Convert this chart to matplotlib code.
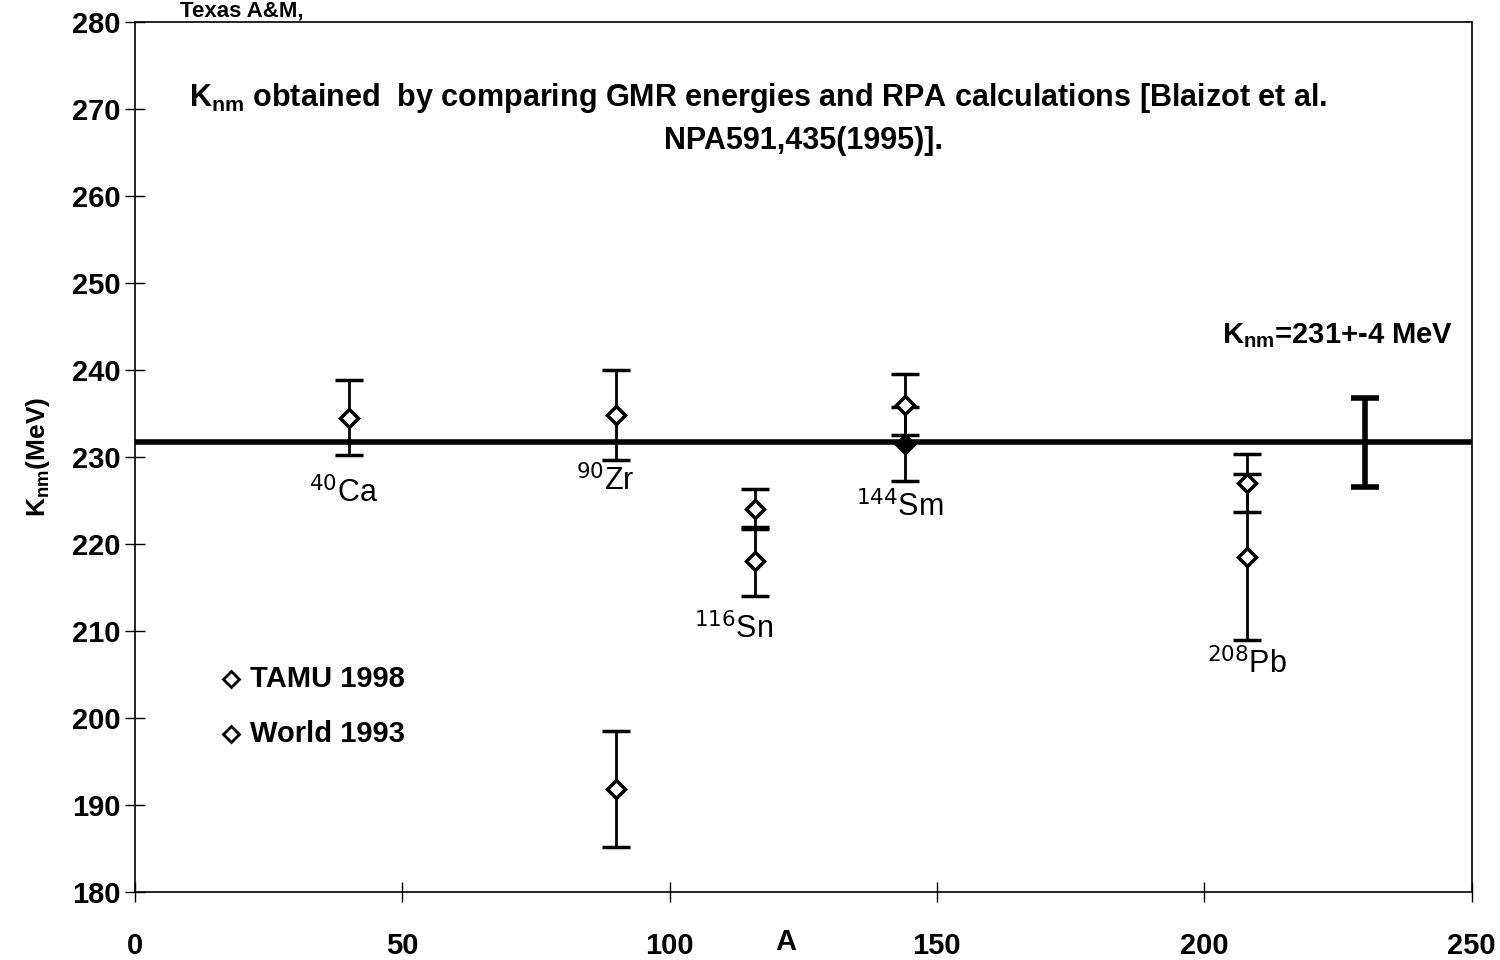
import numpy as np
import matplotlib.pyplot as plt

plt.rcParams['font.family'] = ['Liberation Sans', 'DejaVu Sans']

# TAMU 1998
tamu_a = [40, 90, 116, 144, 208]
tamu_k = [234.5, 234.8, 224.0, 236.0, 227.0]
tamu_err = [4.3, 5.2, 2.3, 3.5, 3.3]
# World 1993
world_a = [90, 116, 208]
world_k = [191.8, 218.0, 218.5]
world_err = [6.7, 4.0, 9.5]
# World 1993, Sm (drawn filled)
sm_a = [144]
sm_k = [231.5]
sm_err = [4.3]
# average
k_avg = 231.7
k_avg_err = 5.1
avg_pos = 230

labels = ['$^{40}$Ca', '$^{90}$Zr', '$^{116}$Sn', '$^{144}$Sm', '$^{208}$Pb']
label_xy = [(39, 225.8), (88, 227.2), (112, 210.2), (143, 224.2), (208, 206.2)]

fig = plt.figure(figsize=(15, 9.6), dpi=100)
ax = fig.add_axes([0.09, 0.071, 0.891, 0.906])

ax.axhline(k_avg, color='black', lw=4, zorder=1)
kw = dict(ms=9, mec='black', mew=2.5, ecolor='black', elinewidth=2,
          capsize=10, capthick=2, color='black')
ax.errorbar(tamu_a, tamu_k, yerr=tamu_err, fmt='D', mfc='white', **kw)
ax.errorbar(world_a, world_k, yerr=world_err, fmt='D', mfc='white', **kw)
ax.errorbar(sm_a, sm_k, yerr=sm_err, fmt='D', mfc='black', **kw)
ax.errorbar([avg_pos], [k_avg], yerr=[k_avg_err], fmt='none', ecolor='black',
            elinewidth=4, capsize=10, capthick=4)

for lab, (x, y) in zip(labels, label_xy):
    ax.text(x, y, lab, fontsize=22, ha='center', va='center')

ax.text(116.5, 271.3, r'K$_{\mathregular{nm}}$ obtained  by comparing GMR energies and RPA calculations [Blaizot et al.',
        fontsize=22, fontweight='bold', ha='center', va='center')
ax.text(125, 266.3, 'NPA591,435(1995)].', fontsize=22, fontweight='bold', ha='center', va='center')
ax.text(225, 244, r'K$_{\mathregular{nm}}$=231+-4 MeV', fontsize=21, fontweight='bold',
        ha='center', va='center')

ax.plot([18], [204.5], 'D', ms=8, mfc='white', mec='black', mew=2)
ax.text(21.5, 204.5, 'TAMU 1998', fontsize=21, fontweight='bold', va='center')
ax.plot([18], [198.2], 'D', ms=8, mfc='white', mec='black', mew=2)
ax.text(21.5, 198.2, 'World 1993', fontsize=21, fontweight='bold', va='center')

fig.text(0.12, 0.999, 'Texas A&M,', fontsize=16, fontweight='bold', va='top')

ax.set_xlim(0, 250)
ax.set_ylim(180, 280)
ax.set_xticks(np.arange(0, 251, 50))
ax.set_yticks(np.arange(180, 281, 10))
ax.tick_params(direction='inout', length=14, width=1, labelsize=21)
ax.tick_params(axis='x', pad=22)
for t in ax.get_xticklabels() + ax.get_yticklabels():
    t.set_fontweight('bold')
ax.set_xlabel('A', fontsize=21, fontweight='bold', va='center')
ax.xaxis.set_label_coords(0.487, -0.058)
ax.set_ylabel(r'K$_{\mathregular{nm}}$(MeV)', fontsize=19, fontweight='bold', labelpad=14)
for s in ax.spines.values():
    s.set_linewidth(1.2)

fig.savefig('out.png', dpi=100)
